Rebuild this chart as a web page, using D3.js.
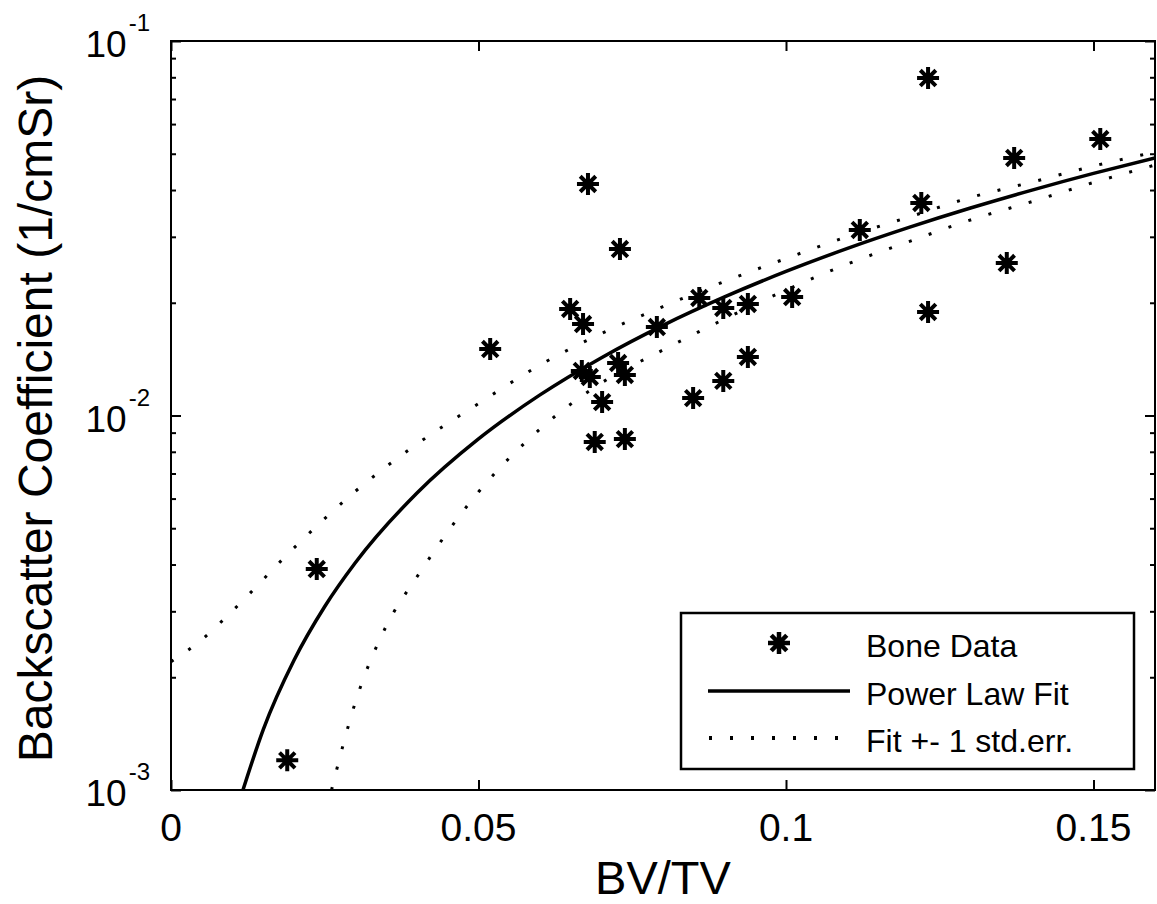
<!DOCTYPE html>
<html>
<head>
  <meta charset="utf-8">
  <title>Backscatter vs BV/TV</title>
  <script src="https://d3js.org/d3.v7.min.js"></script>
  <style>
  body { margin: 0; background: white; }
  text { font-family: "Liberation Sans", Arial, sans-serif; fill: black; }
  </style>
</head>
<body>
<div id="chart"></div>
<script>

// axis ticks
const xTicks = [0, 0.05, 0.1, 0.15]
const xTickLabels = ['0', '0.05', '0.1', '0.15']
const yMajor = [0.001, 0.01, 0.1]
const yExponents = ['-3', '-2', '-1']
const yMinor = [0.002, 0.003, 0.004, 0.005, 0.006, 0.007, 0.008, 0.009,
                0.02, 0.03, 0.04, 0.05, 0.06, 0.07, 0.08, 0.09]

// bone data (BV/TV, backscatter coefficient 1/cmSr)
const bvtv = [0.0189, 0.0237, 0.0519, 0.0649, 0.0670, 0.0678, 0.0730, 0.0668, 0.0681,
              0.0727, 0.0738, 0.0701, 0.0689, 0.0738, 0.0790, 0.0859, 0.0898, 0.0938,
              0.1010, 0.0938, 0.0898, 0.0849, 0.1120, 0.1220, 0.1231, 0.1371, 0.1511,
              0.1359, 0.1231]
const backscatter = [0.00120, 0.00389, 0.01505, 0.01925, 0.01755, 0.04151, 0.02783, 0.01315, 0.01267,
                     0.01381, 0.01283, 0.01086, 0.00850, 0.00865, 0.01723, 0.02060, 0.01937, 0.01985,
                     0.02072, 0.01433, 0.01237, 0.01113, 0.03129, 0.03694, 0.07963, 0.04872, 0.05473,
                     0.02553, 0.01890]

// power law fit
const fitX = [0.0117, 0.015, 0.02, 0.025, 0.03, 0.04, 0.05, 0.06, 0.07, 0.08, 0.09, 0.10,
              0.11, 0.12, 0.13, 0.14, 0.15, 0.16]
const fitY = [0.00100, 0.00145, 0.00222, 0.00309, 0.00405, 0.00621, 0.00866, 0.01135, 0.01427,
              0.01741, 0.02073, 0.02425, 0.02794, 0.03179, 0.03581, 0.03998, 0.04430, 0.04875]

// fit +- 1 std.err.
const upperX = [0, 0.005, 0.01, 0.02, 0.03, 0.04, 0.05, 0.06, 0.07, 0.08, 0.09, 0.10,
                0.11, 0.12, 0.13, 0.14, 0.15, 0.16]
const upperY = [0.00220, 0.00252, 0.00301, 0.00443, 0.00628, 0.00839, 0.01076, 0.01364, 0.01656,
                0.01954, 0.02280, 0.02625, 0.03006, 0.03388, 0.03821, 0.04201, 0.04636, 0.05052]
const lowerX = [0.0261, 0.03, 0.035, 0.04, 0.05, 0.06, 0.07, 0.08, 0.09, 0.10,
                0.11, 0.12, 0.13, 0.14, 0.15, 0.16]
const lowerY = [0.00100, 0.00172, 0.00274, 0.00371, 0.00625, 0.00920, 0.01222, 0.01496, 0.01810,
                0.02163, 0.02538, 0.02914, 0.03327, 0.03726, 0.04189, 0.04665]

const legendLabels = ['Bone Data', 'Power Law Fit', 'Fit +- 1 std.err.']

const width = 1157
const height = 904
const plotLeft = 171, plotRight = 1155, plotTop = 41, plotBottom = 790

const svg = d3.select('#chart')
  .append('svg')
  .attr('width', width)
  .attr('height', height)

svg.append('rect')
  .attr('width', width)
  .attr('height', height)
  .attr('fill', 'white')

const xScale = d3.scaleLinear()
  .domain([0, 0.16])
  .range([plotLeft, plotRight])

const yScale = d3.scaleLog()
  .domain([0.001, 0.1])
  .range([plotBottom, plotTop])

svg.append('clipPath')
  .attr('id', 'plotClip')
  .append('rect')
  .attr('x', plotLeft)
  .attr('y', plotTop)
  .attr('width', plotRight - plotLeft)
  .attr('height', plotBottom - plotTop)

// ticks (inward, on all four sides)
function tickGroup(axis, tx, ty) {
  const g = svg.append('g')
    .attr('transform', 'translate(' + tx + ',' + ty + ')')
    .call(axis)
  g.select('.domain').remove()
  g.selectAll('line').attr('stroke', 'black').attr('stroke-width', 2)
  g.selectAll('text').remove()
  return g
}

tickGroup(d3.axisBottom(xScale).tickValues(xTicks).tickSize(-10), 0, plotBottom)
tickGroup(d3.axisTop(xScale).tickValues(xTicks).tickSize(-10), 0, plotTop)
tickGroup(d3.axisLeft(yScale).tickValues(yMajor).tickSize(-10), plotLeft, 0)
tickGroup(d3.axisRight(yScale).tickValues(yMajor).tickSize(-10), plotRight, 0)
tickGroup(d3.axisLeft(yScale).tickValues(yMinor).tickSize(-5), plotLeft, 0)
tickGroup(d3.axisRight(yScale).tickValues(yMinor).tickSize(-5), plotRight, 0)

// x tick labels
svg.append('g')
  .selectAll('text')
  .data(xTicks)
  .enter()
  .append('text')
  .attr('x', d => xScale(d))
  .attr('y', plotBottom + 51)
  .attr('text-anchor', 'middle')
  .style('font-size', '39px')
  .text((d, i) => xTickLabels[i])

// y tick labels 10^n
const yLab = svg.append('g')
  .selectAll('text')
  .data(yMajor)
  .enter()
  .append('text')
  .attr('x', 150)
  .attr('y', d => yScale(d) + 16)
  .attr('text-anchor', 'end')
  .style('font-size', '37px')

yLab.append('tspan').text('10')
yLab.append('tspan')
  .attr('dy', -26)
  .attr('dx', 2)
  .style('font-size', '24px')
  .text((d, i) => yExponents[i])

// curves
const line = d3.line()
  .x(d => xScale(d[0]))
  .y(d => yScale(d[1]))
  .curve(d3.curveMonotoneX)

const plot = svg.append('g').attr('clip-path', 'url(#plotClip)')

plot.append('path')
  .datum(d3.zip(upperX, upperY))
  .attr('d', line)
  .attr('fill', 'none')
  .attr('stroke', 'black')
  .attr('stroke-width', 3)
  .attr('stroke-dasharray', '3,18')

plot.append('path')
  .datum(d3.zip(lowerX, lowerY))
  .attr('d', line)
  .attr('fill', 'none')
  .attr('stroke', 'black')
  .attr('stroke-width', 3)
  .attr('stroke-dasharray', '3,18')

plot.append('path')
  .datum(d3.zip(fitX, fitY))
  .attr('d', line)
  .attr('fill', 'none')
  .attr('stroke', 'black')
  .attr('stroke-width', 3.5)

// asterisk markers
function star(r) {
  const d = r * Math.SQRT1_2
  return 'M' + (-r) + ',0L' + r + ',0M0,' + (-r) + 'L0,' + r +
    'M' + (-d) + ',' + (-d) + 'L' + d + ',' + d +
    'M' + (-d) + ',' + d + 'L' + d + ',' + (-d)
}

plot.selectAll('.bone')
  .data(d3.zip(bvtv, backscatter))
  .enter()
  .append('path')
  .classed('bone', true)
  .attr('transform', d => 'translate(' + xScale(d[0]) + ',' + yScale(d[1]) + ')')
  .attr('d', star(11))
  .attr('fill', 'none')
  .attr('stroke', 'black')
  .attr('stroke-width', 4)

// frame
svg.append('rect')
  .attr('x', plotLeft)
  .attr('y', plotTop)
  .attr('width', plotRight - plotLeft)
  .attr('height', plotBottom - plotTop)
  .attr('fill', 'none')
  .attr('stroke', 'black')
  .attr('stroke-width', 2)

// axis titles
svg.append('text')
  .attr('x', (plotLeft + plotRight) / 2)
  .attr('y', 894)
  .attr('text-anchor', 'middle')
  .style('font-size', '47px')
  .text('BV/TV')

svg.append('text')
  .attr('transform', 'translate(52,' + ((plotTop + plotBottom) / 2 + 3) + ') rotate(-90)')
  .attr('text-anchor', 'middle')
  .style('font-size', '48px')
  .text('Backscatter Coefficient (1/cmSr)')

// legend
const legend = svg.append('g')

legend.append('rect')
  .attr('x', 681)
  .attr('y', 613)
  .attr('width', 453)
  .attr('height', 156)
  .attr('fill', 'white')
  .attr('stroke', 'black')
  .attr('stroke-width', 2.5)

legend.append('path')
  .attr('transform', 'translate(779,643)')
  .attr('d', star(11))
  .attr('fill', 'none')
  .attr('stroke', 'black')
  .attr('stroke-width', 4.5)

legend.append('line')
  .attr('x1', 708).attr('x2', 850)
  .attr('y1', 691).attr('y2', 691)
  .attr('stroke', 'black')
  .attr('stroke-width', 3.5)

legend.append('line')
  .attr('x1', 709).attr('x2', 850)
  .attr('y1', 738).attr('y2', 738)
  .attr('stroke', 'black')
  .attr('stroke-width', 4)
  .attr('stroke-dasharray', '3,18')

legend.selectAll('.legText')
  .data(legendLabels)
  .enter()
  .append('text')
  .classed('legText', true)
  .attr('x', 866)
  .attr('y', (d, i) => 657 + i * 47.5)
  .style('font-size', '32px')
  .text(d => d)

</script>
</body>
</html>
